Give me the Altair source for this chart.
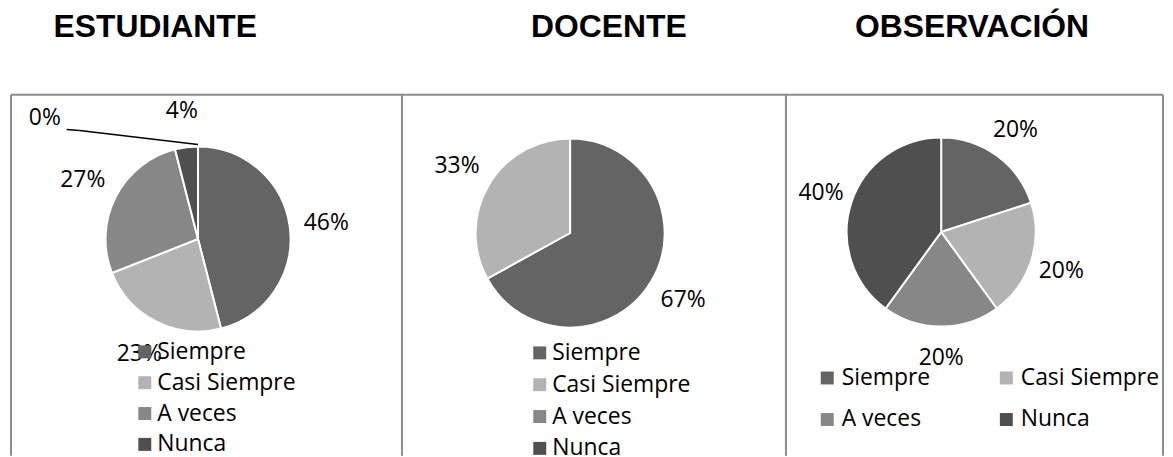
import altair as alt
import pandas as pd

categories = ["Siempre", "Casi Siempre", "A veces", "Nunca"]
gray_shades = ["#646464", "#b3b3b3", "#878787", "#4f4f4f"]
estudiante_pct = [46, 23, 27, 4]
docente_pct = [67, 33, 0, 0]
observacion_pct = [20, 20, 20, 40]
panel_titles = ["ESTUDIANTE", "DOCENTE", "OBSERVACIÓN"]
estudiante_callout = ["0%"]
# two-column legend is filled column by column, so list it in that order
two_column_order = ["Siempre", "A veces", "Casi Siempre", "Nunca"]

W, H = 1163, 449
FONT = "Open Sans"
FS = 23
BORDER = "#8c8c8c"
one = pd.DataFrame({"k": [0]})


def frame(values):
    return pd.DataFrame({
        "categoria": categories,
        "valor": values,
        "orden": list(range(len(categories))),
    })


def pie(values, cx, cy, r, label_r, lx, ly, rowpad, columns=1, colpad=10, offset=1,
        legend_order=None):
    df = frame(values)
    dom = legend_order or categories
    rng = [gray_shades[categories.index(c)] for c in dom]
    legend = alt.Legend(
        orient="none", legendX=lx, legendY=ly, title=None, direction="vertical",
        columns=columns, columnPadding=colpad, rowPadding=rowpad,
        symbolType="square", symbolSize=169, symbolStrokeWidth=0,
        labelFont=FONT, labelFontSize=FS, labelColor="black", labelOffset=offset,
        labelLimit=300, padding=0,
    )
    color = alt.Color("categoria:N", scale=alt.Scale(domain=dom, range=rng), legend=legend)
    base = alt.Chart(df).transform_filter("datum.valor > 0")
    arcs = base.mark_arc(outerRadius=r, stroke="white", strokeWidth=2).encode(
        theta=alt.Theta("valor:Q", stack=True),
        color=color,
        order=alt.Order("orden:Q"),
        x=alt.value(cx), y=alt.value(cy),
    )
    labels = base.transform_calculate(etiqueta="datum.valor + '%'").mark_text(
        radius=label_r, font=FONT, fontSize=FS, color="black", align="center", baseline="middle"
    ).encode(
        theta=alt.Theta("valor:Q", stack=True),
        detail="categoria:N",
        order=alt.Order("orden:Q"),
        text="etiqueta:N",
        x=alt.value(cx), y=alt.value(cy),
    )
    return [arcs, labels]


def title(t, cx):
    return alt.Chart(pd.DataFrame({"t": [t]})).mark_text(
        font="Liberation Sans", fontSize=32, fontWeight="bold", align="center",
        baseline="alphabetic", color="black"
    ).encode(text="t:N", x=alt.value(cx), y=alt.value(28))


def vrule(x):
    return alt.Chart(one).mark_rule(color=BORDER, strokeWidth=2).encode(
        x=alt.value(x), y=alt.value(86), y2=alt.value(H))


layers = []
layers += [title(panel_titles[0], 148), title(panel_titles[1], 604), title(panel_titles[2], 969)]
layers.append(alt.Chart(one).mark_rule(color=BORDER, strokeWidth=2).encode(
    x=alt.value(3), x2=alt.value(1161), y=alt.value(86)))
layers += [vrule(3), vrule(396), vrule(782), vrule(1161)]

layers += pie(estudiante_pct, 191, 231, 93, 130, 126, 333, 7)
layers += pie(docente_pct, 565, 225, 95, 132, 523, 334, 8)
layers += pie(observacion_pct, 938, 224, 95, 127, 812, 359, 18, columns=2, colpad=64,
              offset=3, legend_order=two_column_order)

# callout for the 0% label of ESTUDIANTE
layers.append(alt.Chart(pd.DataFrame({"t": estudiante_callout})).mark_text(
    font=FONT, fontSize=FS, color="black", align="center", baseline="middle"
).encode(text="t:N", x=alt.value(37), y=alt.value(109)))
layers.append(alt.Chart(one).mark_rule(color="black", strokeWidth=1.5).encode(
    x=alt.value(59), x2=alt.value(72), y=alt.value(121), y2=alt.value(122)))
layers.append(alt.Chart(one).mark_rule(color="black", strokeWidth=1.5).encode(
    x=alt.value(72), x2=alt.value(191), y=alt.value(122), y2=alt.value(136)))

chart = alt.layer(*layers).resolve_scale(
    theta="independent", color="independent"
).properties(
    width=W, height=H, padding=0, autosize=alt.AutoSizeParams(type="none"),
    background="white",
).configure_view(stroke=None)

chart.save("out.html", embed_options={"renderer": "svg", "actions": False})
